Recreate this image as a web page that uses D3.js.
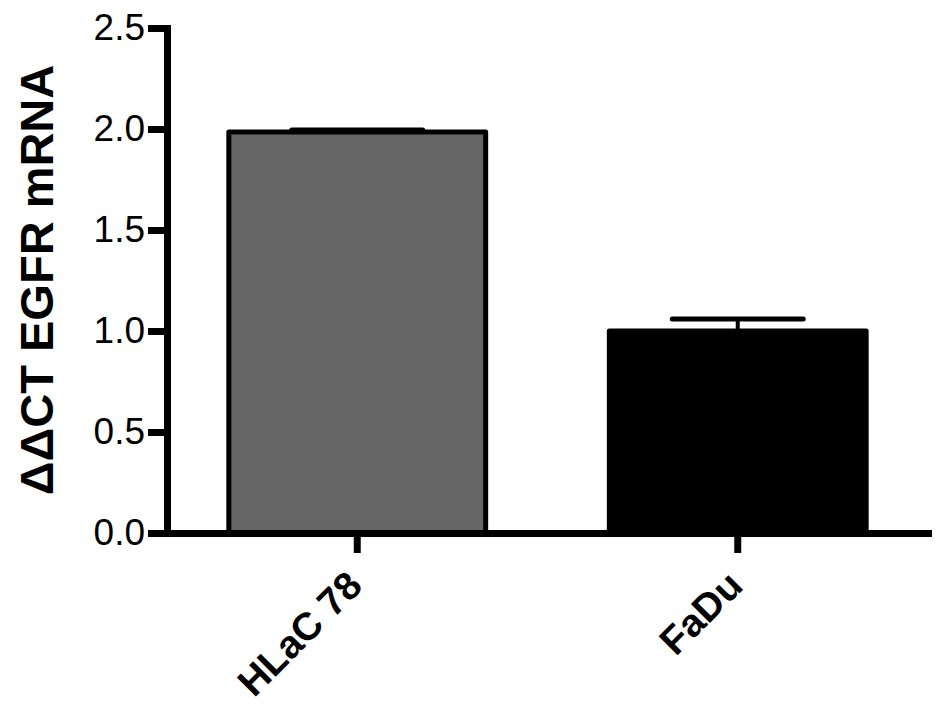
<!DOCTYPE html>
<html>
<head>
<meta charset="utf-8">
<script src="https://cdn.jsdelivr.net/npm/d3@7"></script>
<style>
  html, body { margin: 0; padding: 0; background: #fff; }
  svg { display: block; font-family: "Liberation Sans", Arial, sans-serif; }
</style>
</head>
<body>
<svg id="chart" width="945" height="709"></svg>
<script>
// data
const cellLines = ["HLaC 78", "FaDu"];
const meanValues = [1.985, 1.0];
const semValues = [0.01, 0.06];
const barFills = ["#666666", "#000000"];
const yTicks = [0, 0.5, 1.0, 1.5, 2.0, 2.5];

const width = 945,
  height = 709,
  margin = {top: 28, right: 17, bottom: 176, left: 167},
  lineW = 7;

const svg = d3.select("#chart");

const x = d3.scaleBand()
  .domain(cellLines)
  .range([margin.left, width - margin.right])
  .paddingInner(0)
  .paddingOuter(0);

const y = d3.scaleLinear()
  .domain([0, 2.5])
  .range([height - margin.bottom, margin.top]);

const barW = x.bandwidth() * 0.675,
  capW = barW * 0.51;

// bars
svg.append("g").selectAll("rect")
  .data(cellLines)
  .join("rect")
  .attr("x", d => x(d) + (x.bandwidth() - barW) / 2)
  .attr("y", (d, i) => y(meanValues[i]))
  .attr("width", barW)
  .attr("height", (d, i) => y(0) - y(meanValues[i]))
  .attr("fill", (d, i) => barFills[i])
  .attr("stroke", "#000")
  .attr("stroke-width", 5)
  .attr("stroke-linejoin", "round");

// error bars (upper only)
const err = svg.append("g")
  .attr("stroke", "#000")
  .attr("stroke-linecap", "round");

err.selectAll("line.stem")
  .data(cellLines)
  .join("line")
  .attr("class", "stem")
  .attr("stroke-width", 4)
  .attr("x1", d => x(d) + x.bandwidth() / 2)
  .attr("x2", d => x(d) + x.bandwidth() / 2)
  .attr("y1", (d, i) => y(meanValues[i]))
  .attr("y2", (d, i) => y(meanValues[i] + semValues[i]));

err.selectAll("line.cap")
  .data(cellLines)
  .join("line")
  .attr("class", "cap")
  .attr("stroke-width", 5)
  .attr("x1", d => x(d) + x.bandwidth() / 2 - capW / 2)
  .attr("x2", d => x(d) + x.bandwidth() / 2 + capW / 2)
  .attr("y1", (d, i) => y(meanValues[i] + semValues[i]))
  .attr("y2", (d, i) => y(meanValues[i] + semValues[i]));

// y axis
const yAxis = svg.append("g")
  .attr("transform", `translate(${margin.left},0)`)
  .call(d3.axisLeft(y).tickValues(yTicks).tickFormat(d3.format(".1f")).tickSize(19).tickSizeOuter(0).tickPadding(3));

yAxis.select(".domain")
  .attr("stroke-width", lineW)
  .attr("stroke-linecap", "square");
yAxis.selectAll(".tick line").attr("stroke-width", lineW);
yAxis.selectAll(".tick text")
  .attr("font-size", 37)
  .attr("font-family", "Liberation Sans, Arial, sans-serif")
  .attr("fill", "#000");

// x axis
const xAxis = svg.append("g")
  .attr("transform", `translate(0,${y(0)})`)
  .call(d3.axisBottom(x).tickSize(20).tickSizeOuter(0).tickFormat(""));

xAxis.select(".domain")
  .attr("stroke-width", lineW)
  .attr("stroke-linecap", "square");
xAxis.selectAll(".tick line").attr("stroke-width", lineW);

svg.append("g").selectAll("text")
  .data(cellLines)
  .join("text")
  .attr("transform", d => `translate(${x(d) + x.bandwidth() / 2 + 7},${y(0) + 55}) rotate(-45)`)
  .attr("text-anchor", "end")
  .attr("font-size", 39)
  .attr("font-weight", "bold")
  .text(d => d);

// y label
svg.append("text")
  .attr("transform", `translate(53,${(63 + 497) / 2}) rotate(-90)`)
  .attr("text-anchor", "middle")
  .attr("font-size", 47)
  .attr("font-weight", "bold")
  .text("ΔΔCT EGFR mRNA");
</script>
</body>
</html>
